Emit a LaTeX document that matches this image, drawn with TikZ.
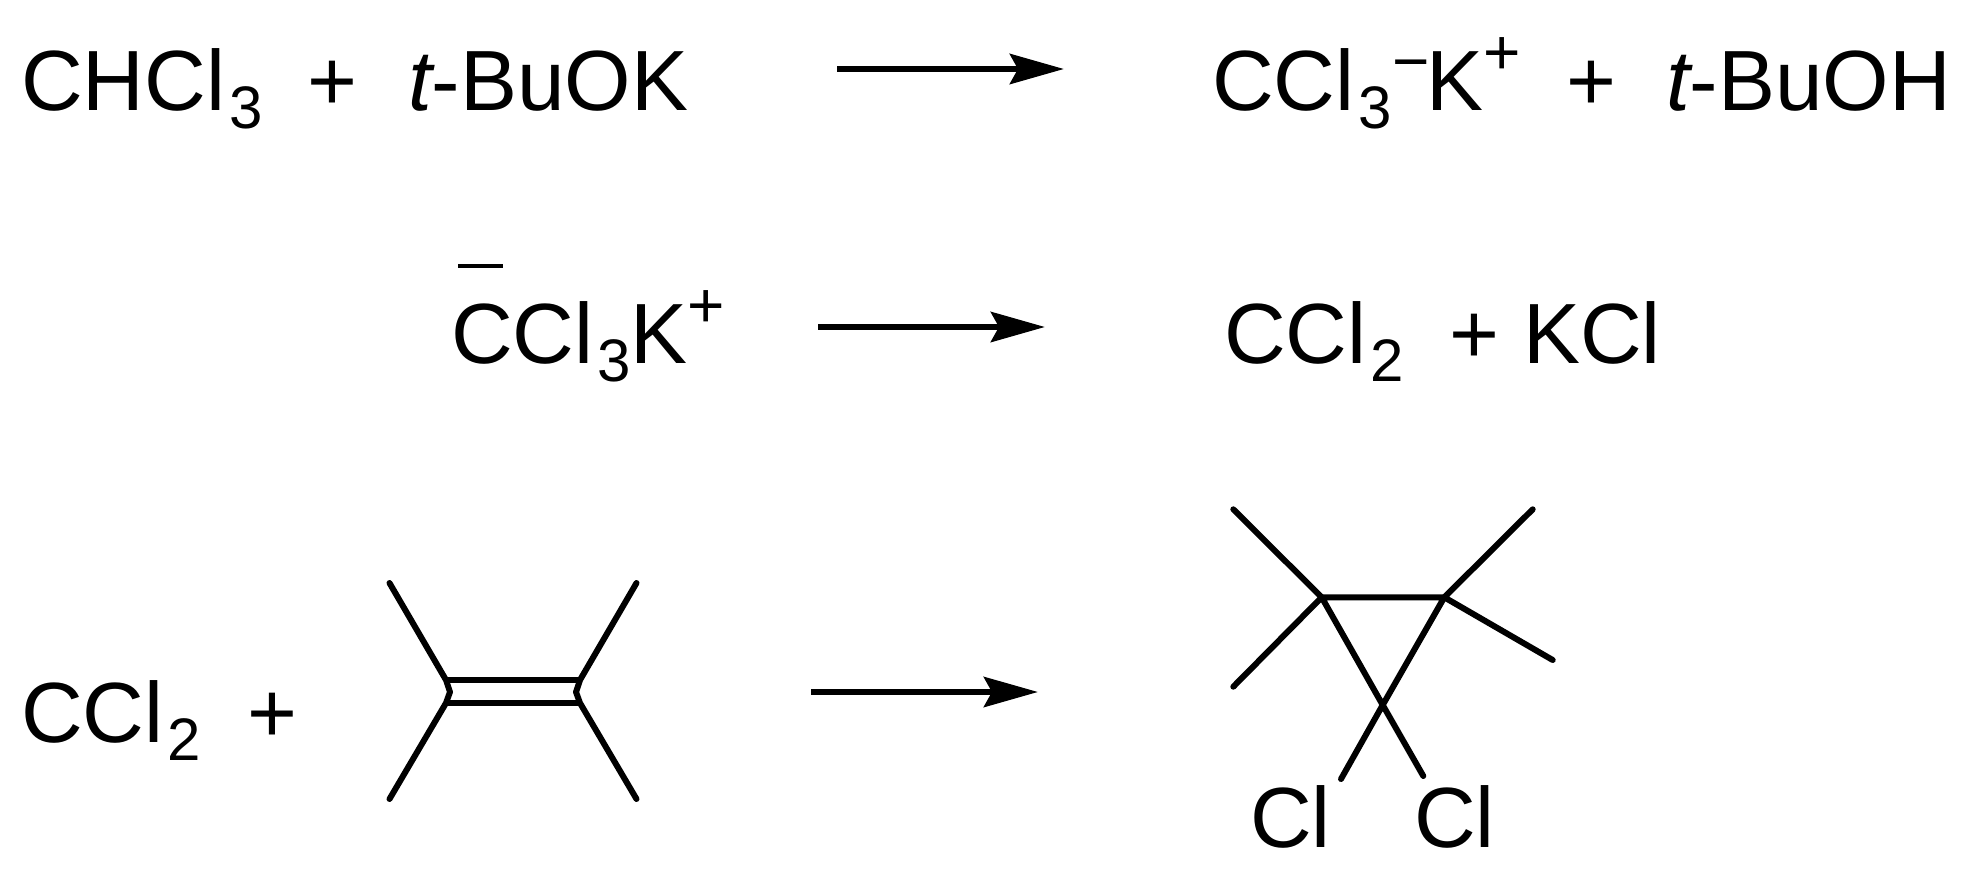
\documentclass[tikz,border=0pt]{standalone}
\usepackage{fontspec}
\setmainfont{Liberation Sans}
\usetikzlibrary{arrows.meta}
\newcommand\chemsub[1]{\hspace{4pt}\raisebox{-18pt}{\fontsize{60}{60}\selectfont #1}}
\newcommand\chemsup[2][36pt]{\raisebox{#1}{\fontsize{64}{64}\selectfont #2}}
\tikzset{
  chem/.style={inner sep=0pt,outer sep=0pt,anchor=base west,font=\fontsize{85.5}{85.5}\selectfont},
  rxnarrow/.style={line width=6.5pt,-{Stealth[length=54pt,width=30pt,inset=8pt]}},
  bond/.style={line width=6pt,line cap=round,line join=round},
  dbl/.style={line width=6.5pt},
  bar/.style={line width=4.5pt}
}
\begin{document}
\begin{tikzpicture}[x=1pt,y=-1pt]
\useasboundingbox (0,0) rectangle (1963,887);
% row 1
\node[chem] (chcl) at (21,110) {CHCl\chemsub{3}};
\node[chem] (p1) at (307,110) {+};
\node[chem] (buok) at (408,110) {{\itshape t}-BuOK};
\coordinate (a1s) at (837,69); \coordinate (a1e) at (1064,69);
\draw[rxnarrow] (a1s) -- (a1e);
\node[chem] (ccl3k) at (1212,110) {CCl\chemsub{3}\hspace{1pt}\chemsup[27pt]{−}\hspace{-4pt}K\chemsup{+}};
\node[chem] (p2) at (1566,110) {+};
\node[chem] (buoh) at (1666,110) {{\itshape t}-BuOH};
% row 2
\node[chem] (ccl3b) at (451,363) {CCl\chemsub{3}K\chemsup{+}};
\coordinate (b1) at (458,266); \coordinate (b2) at (503,266);
\draw[bar] (b1) -- (b2);
\coordinate (a2s) at (818,327); \coordinate (a2e) at (1045,327);
\draw[rxnarrow] (a2s) -- (a2e);
\node[chem] (ccl2a) at (1224,363) {CCl\chemsub{2}};
\node[chem] (p3) at (1449,363) {+};
\node[chem] (kcl) at (1523,363) {KCl};
% row 3
\node[chem] (ccl2b) at (21,742) {CCl\chemsub{2}};
\node[chem] (p4) at (247,742) {+};
\coordinate (tl) at (389.5,583); \coordinate (tr) at (636.5,583);
\coordinate (bl) at (389.5,799); \coordinate (br) at (636.5,799);
\coordinate (lu) at (446,680); \coordinate (lm) at (450,692); \coordinate (ld) at (446,703);
\coordinate (ru) at (580,680); \coordinate (rm) at (576,692); \coordinate (rd) at (580,703);
\draw[bond] (tl) -- (lu) -- (lm) -- (ld) -- (bl);
\draw[bond] (tr) -- (ru) -- (rm) -- (rd) -- (br);
\draw[dbl] (lu) -- (ru);
\draw[dbl] (ld) -- (rd);
\coordinate (a3s) at (811,692); \coordinate (a3e) at (1038,692);
\draw[rxnarrow] (a3s) -- (a3e);
% cyclopropane
\coordinate (A) at (1321.7,597.3); \coordinate (B) at (1444.3,597.3); \coordinate (C) at (1382.7,705);
\coordinate (A1) at (1233.3,509.3); \coordinate (A2) at (1233.3,686.7);
\coordinate (B1) at (1532.7,509.3); \coordinate (B2) at (1552.7,660);
\coordinate (C1) at (1341,779); \coordinate (C2) at (1423.3,776);
\draw[bond] (A) -- (B) -- (C) -- cycle;
\draw[bond] (A) -- (A1) (A) -- (A2) (B) -- (B1) (B) -- (B2) (C) -- (C1) (C) -- (C2);
\node[chem] (cl1) at (1250,847) {Cl};
\node[chem] (cl2) at (1414,847) {Cl};
\end{tikzpicture}
\end{document}
